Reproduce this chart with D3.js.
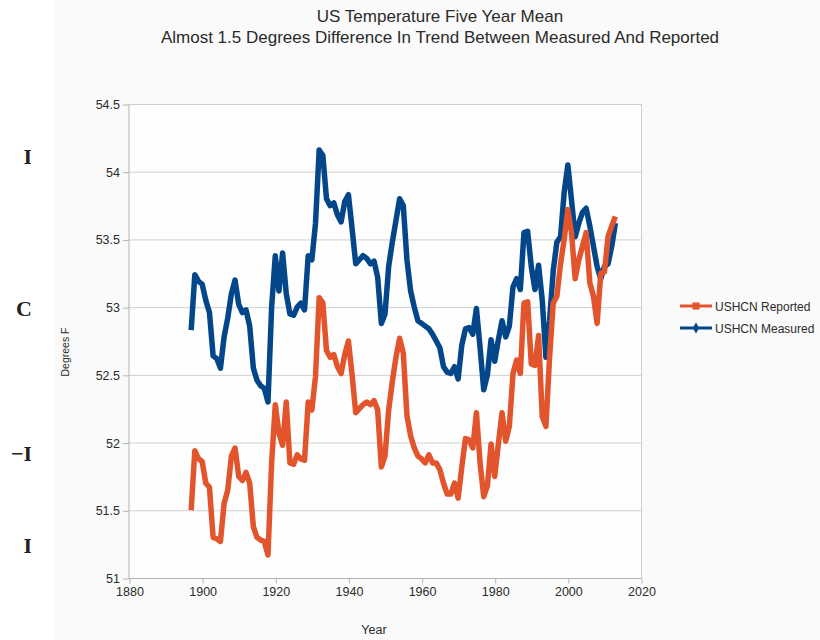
<!DOCTYPE html>
<html>
<head>
    <title>US Temperature Five Year Mean</title>
    <script src="https://d3js.org/d3.v7.min.js"></script>
    <style>
        body {
            margin: 0;
            background: #ffffff;
            font-family: "Liberation Sans", Arial, sans-serif;
        }
        svg text {
            fill: #2b2b2b;
        }
        .grid line {
            stroke: #cfcfcf;
            stroke-width: 1;
        }
        .axis path, .axis line {
            stroke: #b3b3b3;
        }
        .axis text {
            font-size: 12.5px;
            fill: #2b2b2b;
        }
    </style>
</head>
<body>
<div id="chart"></div>
<script>
    // one value per year, 1897..2013
    const firstYear = 1897;
    const reported = [
        51.50, 51.94, 51.88, 51.86, 51.70, 51.67, 51.30, 51.29, 51.27, 51.55,
        51.65, 51.90, 51.96, 51.75, 51.72, 51.78, 51.70, 51.38, 51.30, 51.28,
        51.27, 51.17, 51.85, 52.28, 52.07, 51.98, 52.30, 51.85, 51.84, 51.91,
        51.88, 51.87, 52.30, 52.24, 52.49, 53.07, 53.03, 52.68, 52.63, 52.65,
        52.56, 52.51, 52.65, 52.75, 52.50, 52.22, 52.25, 52.28, 52.30, 52.28,
        52.31, 52.24, 51.82, 51.90, 52.24, 52.45, 52.63, 52.77, 52.66, 52.20,
        52.05, 51.96, 51.90, 51.88, 51.85, 51.91, 51.85, 51.85, 51.80, 51.70,
        51.62, 51.62, 51.70, 51.59, 51.82, 52.03, 52.02, 51.96, 52.22, 51.85,
        51.60, 51.68, 51.99, 51.75, 51.99, 52.22, 52.01, 52.12, 52.51, 52.61,
        52.51, 53.03, 53.04, 52.58, 52.57, 52.79, 52.19, 52.12, 52.63, 53.03,
        53.08, 53.32, 53.50, 53.72, 53.55, 53.21, 53.35, 53.45, 53.55, 53.18,
        53.08, 52.88, 53.25, 53.26, 53.52, 53.60, 53.67
    ];
    const measured = [
        52.83, 53.24, 53.19, 53.17, 53.05, 52.96, 52.64, 52.62, 52.55, 52.78,
        52.92, 53.10, 53.20, 53.02, 52.96, 52.98, 52.86, 52.55, 52.46, 52.42,
        52.40, 52.30, 53.00, 53.38, 53.12, 53.40, 53.10, 52.95, 52.94, 53.00,
        53.03, 52.98, 53.38, 53.35, 53.62, 54.16, 54.12, 53.80, 53.75, 53.77,
        53.68, 53.63, 53.78, 53.83, 53.58, 53.32, 53.35, 53.38, 53.36, 53.32,
        53.34, 53.22, 52.88, 52.95, 53.30, 53.48, 53.64, 53.80, 53.75, 53.35,
        53.12, 53.00, 52.90, 52.88, 52.86, 52.84, 52.80, 52.75, 52.70, 52.56,
        52.52, 52.51, 52.56, 52.47, 52.72, 52.84, 52.85, 52.80, 52.99, 52.70,
        52.39, 52.50, 52.76, 52.60, 52.76, 52.90, 52.78, 52.86, 53.15, 53.21,
        53.13, 53.55, 53.56, 53.30, 53.13, 53.31, 53.05, 52.63, 52.90, 53.27,
        53.48, 53.52, 53.85, 54.05, 53.79, 53.52, 53.62, 53.70, 53.73, 53.60,
        53.45, 53.30, 53.21, 53.30, 53.32, 53.45, 53.62
    ];
    const xTicks = [1880, 1900, 1920, 1940, 1960, 1980, 2000, 2020];
    const yTicks = [51, 51.5, 52, 52.5, 53, 53.5, 54, 54.5];
    const seriesNames = ["USHCN Reported", "USHCN Measured"];
    const titleLines = ["US Temperature Five Year Mean",
        "Almost 1.5 Degrees Difference In Trend Between Measured And Reported"];
    // stray glyphs along the left edge of the original image
    const edgeGlyphs = [["I", 156], ["C", 308], ["\u2212I", 453], ["I", 545]];

    const width = 820, height = 640;
    const margin = {top: 104, right: 179, bottom: 62, left: 129};
    const colors = ["#e2542c", "#03478a"];

    const svg = d3.select("#chart")
        .append("svg")
        .attr("width", width)
        .attr("height", height);

    // chart background (slightly off-white, left strip white)
    svg.append("rect")
        .attr("x", 55).attr("y", 0)
        .attr("width", width - 55).attr("height", height)
        .attr("fill", "#f9faf9");

    svg.append("clipPath")
        .attr("id", "edge-clip")
        .append("rect")
        .attr("x", 0).attr("y", 0)
        .attr("width", 31).attr("height", height);

    svg.append("g")
        .attr("clip-path", "url(#edge-clip)")
        .selectAll("text")
        .data(edgeGlyphs)
        .enter()
        .append("text")
        .attr("x", 32)
        .attr("y", d => d[1] + 8)
        .attr("text-anchor", "end")
        .style("font-family", "'Liberation Serif', serif")
        .style("font-weight", "bold")
        .style("font-size", "22px")
        .style("fill", "#222")
        .text(d => d[0]);

    const x = d3.scaleLinear()
        .domain([1880, 2020])
        .range([margin.left, width - margin.right]);

    const y = d3.scaleLinear()
        .domain([51, 54.5])
        .range([height - margin.bottom, margin.top]);

    svg.append("rect")
        .attr("x", x(1880)).attr("y", y(54.5))
        .attr("width", x(2020) - x(1880)).attr("height", y(51) - y(54.5))
        .attr("fill", "#fdfefd");

    // horizontal grid
    svg.append("g")
        .attr("class", "grid")
        .selectAll("line")
        .data(yTicks)
        .enter()
        .append("line")
        .attr("x1", x(1880))
        .attr("x2", x(2020))
        .attr("y1", d => y(d) + 0.5)
        .attr("y2", d => y(d) + 0.5);

    // right border
    svg.append("line")
        .attr("x1", x(2020) + 0.5).attr("x2", x(2020) + 0.5)
        .attr("y1", y(54.5)).attr("y2", y(51))
        .attr("stroke", "#cfcfcf");

    const yAxis = svg.append("g")
        .attr("class", "axis")
        .attr("transform", `translate(${x(1880)},0.5)`)
        .call(d3.axisLeft(y).tickValues(yTicks).tickSize(6).tickPadding(3).tickFormat(d3.format("")));
    yAxis.select(".domain").attr("d", `M0,${y(54.5)}V${y(51)}`);

    const xAxis = svg.append("g")
        .attr("class", "axis")
        .attr("transform", `translate(0.5,${y(51) + 0.5})`)
        .call(d3.axisBottom(x).tickValues(xTicks).tickSize(5).tickPadding(4).tickFormat(d3.format("d")));
    xAxis.select(".domain").attr("d", `M${x(1880)},0H${x(2020)}`);

    const line = d3.line()
        .x((d, i) => x(firstYear + i))
        .y(d => y(d));

    [measured, reported].forEach((series, k) => {
        svg.append("path")
            .datum(series)
            .attr("fill", "none")
            .attr("stroke", k === 0 ? colors[1] : colors[0])
            .attr("stroke-width", 5.5)
            .attr("stroke-linejoin", "round")
            .attr("d", line);
    });

    // titles
    svg.selectAll("text.title")
        .data(titleLines)
        .enter()
        .append("text")
        .attr("class", "title")
        .attr("x", 440)
        .attr("y", (d, i) => 22 + i * 21)
        .attr("text-anchor", "middle")
        .style("font-size", "17px")
        .style("fill", "#2b2b2b")
        .text(d => d);

    svg.append("text")
        .attr("transform", "translate(69,352) rotate(-90)")
        .attr("text-anchor", "middle")
        .style("font-size", "10.5px")
        .text("Degrees F");

    svg.append("text")
        .attr("x", 374)
        .attr("y", 634)
        .attr("text-anchor", "middle")
        .style("font-size", "12.5px")
        .text("Year");

    // legend
    const legend = svg.append("g")
        .selectAll("g")
        .data(seriesNames)
        .enter()
        .append("g")
        .attr("transform", (d, i) => `translate(680,${306 + i * 22})`);

    legend.append("line")
        .attr("x1", 0).attr("x2", 32)
        .attr("stroke", (d, i) => colors[i])
        .attr("stroke-width", 3);

    legend.append("path")
        .attr("transform", "translate(16,0)")
        .attr("d", (d, i) => d3.symbol().type(i === 0 ? d3.symbolSquare : d3.symbolDiamond).size(i === 0 ? 50 : 36)())
        .attr("fill", (d, i) => colors[i]);

    legend.append("text")
        .attr("x", 35)
        .attr("y", 5)
        .style("font-size", "12px")
        .text(d => d);
</script>
</body>
</html>
